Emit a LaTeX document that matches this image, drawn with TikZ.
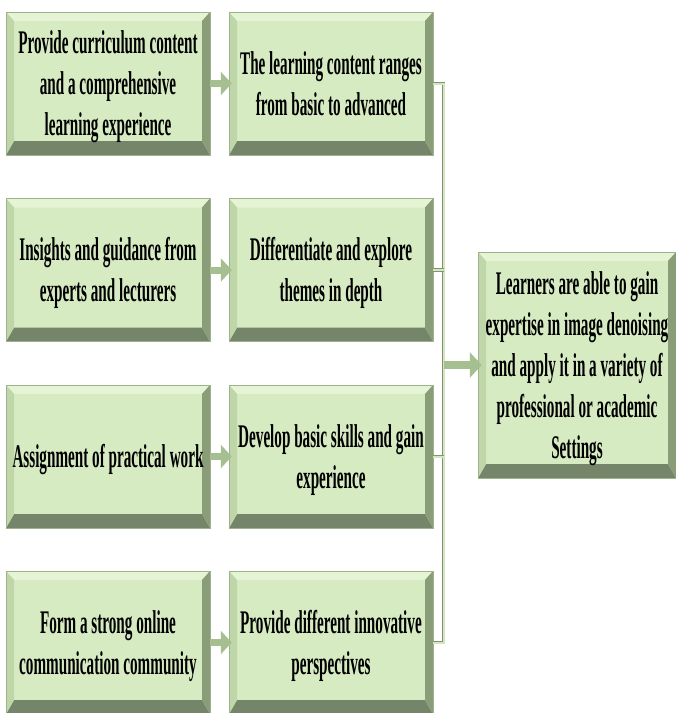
\documentclass[tikz,border=0pt]{standalone}
\usepackage{fontspec}
\usetikzlibrary{arrows.meta,calc}
\newfontfamily\boxfont{Liberation Serif}[FakeStretch=0.46]

\definecolor{facec}{HTML}{D6EBC2}
\definecolor{topc}{HTML}{E4F4D4}
\definecolor{leftc}{HTML}{BFD6A9}
\definecolor{rightc}{HTML}{8A9D79}
\definecolor{botc}{HTML}{74856A}
\definecolor{edgec}{HTML}{9FB28E}
\definecolor{arrowc}{HTML}{A5BF90}
\definecolor{busout}{HTML}{7F946F}
\definecolor{busin}{HTML}{D3E6BF}

% centred lines, set slightly below the middle of the box
\newcommand\boxtext[1]{\raisebox{-3pt}[\height][\depth]{\begin{tabular}{@{}c@{}}#1\end{tabular}}}

\tikzset{
  bevelbox/.style={rectangle, inner sep=0pt, minimum width=204pt, minimum height=143pt,
    fill=facec, draw=edgec, line width=0.5pt,
    font=\boxfont\bfseries\fontsize{33}{41}\selectfont,
    path picture={
      \coordinate (pNW) at (path picture bounding box.north west);
      \coordinate (pNE) at (path picture bounding box.north east);
      \coordinate (pSW) at (path picture bounding box.south west);
      \coordinate (pSE) at (path picture bounding box.south east);
      \fill[topc] (pNW) -- (pNE) -- ([shift={(-8,9)}]pNE) -- ([shift={(8,9)}]pNW) -- cycle;
      \fill[botc] (pSW) -- (pSE) -- ([shift={(-8,-14)}]pSE) -- ([shift={(8,-14)}]pSW) -- cycle;
      \fill[leftc] (pNW) -- ([shift={(8,9)}]pNW) -- ([shift={(8,-14)}]pSW) -- (pSW) -- cycle;
      \fill[rightc] (pNE) -- ([shift={(-8,9)}]pNE) -- ([shift={(-8,-14)}]pSE) -- (pSE) -- cycle;
    }},
  smallarrow/.style={draw=arrowc, line width=7pt, shorten >=-3pt,
    -{Triangle[width=23pt,length=11pt,fill=arrowc]}},
  bigarrow/.style={draw=arrowc, line width=8pt, shorten >=-4pt,
    -{Triangle[width=25pt,length=12pt,fill=arrowc]}},
  busline/.style={draw=busout, line width=0.8pt, double=busin, double distance=2pt}
}

\begin{document}
\begin{tikzpicture}[x=1pt,y=-1pt]
\useasboundingbox (0,0) rectangle (676,713);

% left column
\node[bevelbox] (l1) at (108,83.5) {\boxtext{Provide curriculum content\\and a comprehensive\\learning experience}};
\node[bevelbox] (l2) at (108,270) {\boxtext{Insights and guidance from\\experts and lecturers}};
\node[bevelbox] (l3) at (108,456.5) {\boxtext{Assignment of practical work}};
\node[bevelbox] (l4) at (108,642.5) {\boxtext{Form a strong online\\communication community}};

% middle column
\node[bevelbox] (m1) at (331,83.5) {\boxtext{The learning content ranges\\from basic to advanced}};
\node[bevelbox] (m2) at (331,270) {\boxtext{Differentiate and explore\\themes in depth}};
\node[bevelbox] (m3) at (331,456.5) {\boxtext{Develop basic skills and gain\\experience}};
\node[bevelbox] (m4) at (331,642.5) {\boxtext{Provide different innovative\\perspectives}};

% outcome
\node[bevelbox, minimum width=198pt, minimum height=226pt] (r) at (577,365)
  {\boxtext{Learners are able to gain\\expertise in image denoising\\and apply it in a variety of\\professional or academic\\Settings}};

% arrows between columns
\foreach \i in {1,2,3,4}{
  \draw[smallarrow] (l\i.east) -- (m\i.west);
}

% collecting bus
\coordinate (bus) at (443.5,0);
\draw[busline] (m1.east) -| (m4.east -| bus) -- (m4.east);
\draw[busline] (m2.east) -- (m2.east -| bus);
\draw[busline] (m3.east) -- (m3.east -| bus);
\draw[bigarrow] (r.west -| bus) -- (r.west);
\end{tikzpicture}
\end{document}
